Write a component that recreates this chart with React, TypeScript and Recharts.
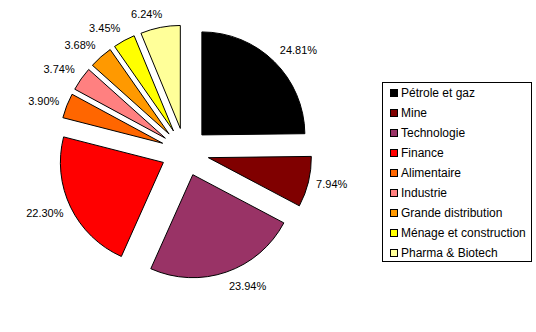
import React from 'react';
import { PieChart, Pie, Cell, Sector, Legend } from 'recharts';

const sectors = [
  'Pétrole et gaz',
  'Mine',
  'Technologie',
  'Finance',
  'Alimentaire',
  'Industrie',
  'Grande distribution',
  'Ménage et construction',
  'Pharma & Biotech',
];
const weights = [24.81, 7.94, 23.94, 22.3, 3.9, 3.74, 3.68, 3.45, 6.24];
const colors = ['#000000', '#800000', '#993366', '#FF0000', '#FF6600', '#FF8080', '#FF9900', '#FFFF00', '#FFFF99'];

const data = sectors.map((name, i) => ({ name, value: weights[i] }));

const RAD = Math.PI / 180;
const EXPLODE = 24;
const font = 'Arial, "Liberation Sans", sans-serif';

const clamp = (v: number) => Math.max(0, Math.min(1, v));

// chaque part est décalée vers l'extérieur
const ExplodedSlice = (props: any) => {
  const { cx, cy, midAngle } = props;
  const dx = EXPLODE * Math.cos(-midAngle * RAD);
  const dy = EXPLODE * Math.sin(-midAngle * RAD);
  return <Sector {...props} cx={cx + dx} cy={cy + dy} />;
};

// étiquette placée comme dans Excel : le coin de la boîte touche le point d'ancrage
const renderLabel = (props: any) => {
  const { cx, cy, midAngle, outerRadius, value } = props;
  const txt = `${value.toFixed(2)}%`;
  const ux = Math.cos(-midAngle * RAD);
  const uy = Math.sin(-midAngle * RAD);
  const r = outerRadius + 32;
  const halfW = txt.length * 3.1;
  const x = cx + r * ux + halfW * clamp(Math.abs(ux) / 0.25) * Math.sign(ux);
  const y = cy + r * uy + 6 * clamp((Math.abs(uy) - 0.3) / 0.3) * Math.sign(uy);
  return (
    <text x={x} y={y} textAnchor="middle" dominantBaseline="central" fontSize={11} fontFamily={font} fill="#000">
      {txt}
    </text>
  );
};

const renderLegend = () => (
  <div style={{ border: '1px solid #000', width: 148, height: 178, background: '#fff' }}>
    {data.map((d, i) => (
      <div key={d.name} style={{ height: 20, display: 'flex', alignItems: 'center', fontFamily: font, fontSize: 12, color: '#000' }}>
        <span style={{ display: 'inline-block', width: 6, height: 6, border: '1px solid #000', background: colors[i], marginLeft: 7, marginRight: 3 }} />
        <span style={{ whiteSpace: 'nowrap' }}>{d.name}</span>
      </div>
    ))}
  </div>
);

export default function App() {
  return (
    <div style={{ position: 'absolute', left: 0, top: 0, width: 536, height: 332, background: '#fff' }}>
      <PieChart width={536} height={332} margin={{ top: 0, right: 0, bottom: 0, left: 0 }}>
        <Pie
          data={data}
          dataKey="value"
          nameKey="name"
          cx={185}
          cy={152}
          outerRadius={103}
          startAngle={90}
          endAngle={-270}
          stroke="#000"
          strokeWidth={1}
          shape={ExplodedSlice}
          label={renderLabel}
          labelLine={false}
          isAnimationActive={false}
        >
          {data.map((d, i) => (
            <Cell key={d.name} fill={colors[i]} />
          ))}
        </Pie>
        <Legend
          layout="vertical"
          content={renderLegend}
          wrapperStyle={{ position: 'absolute', left: 382, top: 82, width: 150, height: 180 }}
        />
      </PieChart>
    </div>
  );
}
